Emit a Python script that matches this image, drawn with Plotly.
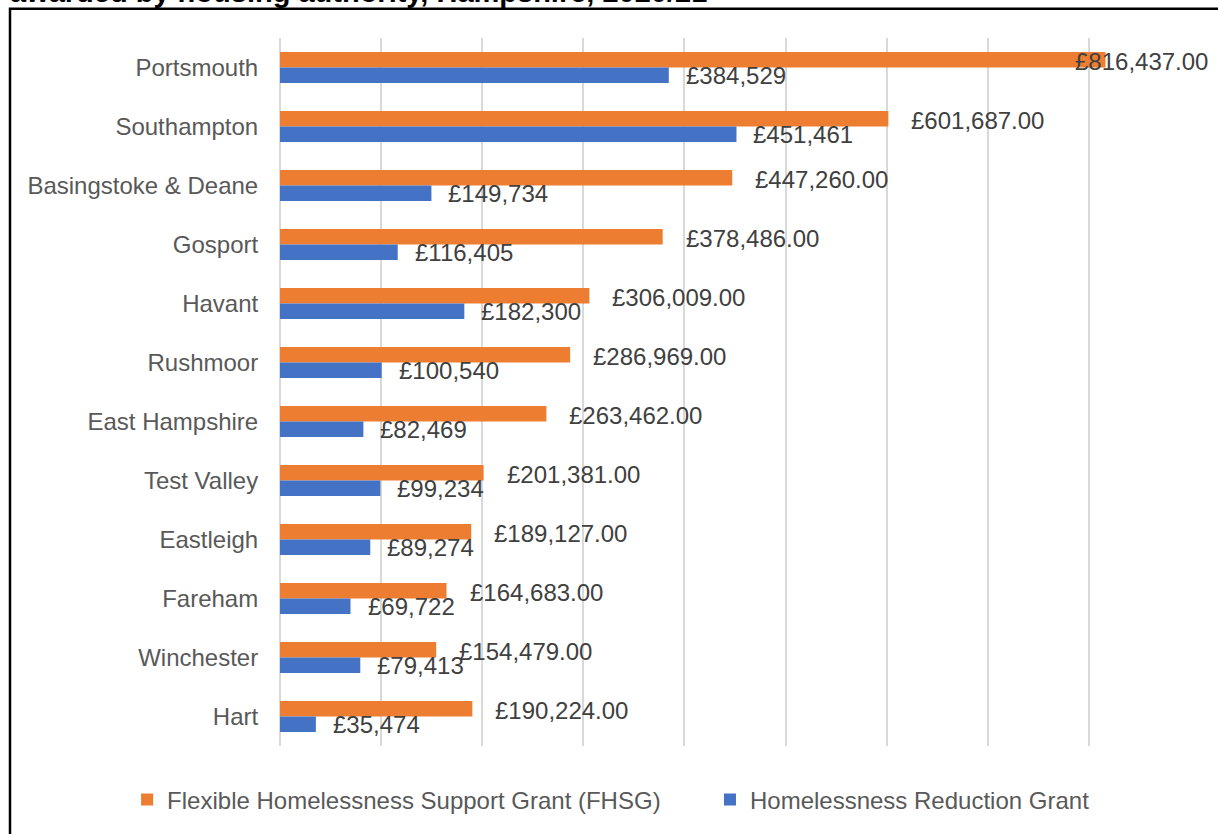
import plotly.graph_objects as go

# ---- data ----
authorities = ["Portsmouth", "Southampton", "Basingstoke & Deane", "Gosport", "Havant",
               "Rushmoor", "East Hampshire", "Test Valley", "Eastleigh", "Fareham",
               "Winchester", "Hart"]
fhsg = [816437, 601687, 447260, 378486, 306009, 286969, 263462, 201381, 189127, 164683,
        154479, 190224]
hrg = [384529, 451461, 149734, 116405, 182300, 100540, 82469, 99234, 89274, 69722,
       79413, 35474]
series_names = ["Flexible Homelessness Support Grant (FHSG)", "Homelessness Reduction Grant"]
title_text = "awarded by housing authority, Hampshire, 2020/21"

ORANGE = "#ED7D31"
BLUE = "#4472C4"
FONT = "Liberation Sans, Arial, sans-serif"
FS = 24
XMAX = 900000

fig = go.Figure()
fig.add_trace(go.Bar(y=authorities, x=fhsg, orientation="h", name=series_names[0],
                     marker=dict(color=ORANGE, line=dict(width=0)), legend="legend",
                     showlegend=True))
fig.add_trace(go.Bar(y=authorities, x=hrg, orientation="h", name=series_names[1],
                     marker=dict(color=BLUE, line=dict(width=0)), legend="legend2",
                     showlegend=True))

annotations = []
for cat, v in zip(authorities, fhsg):
    txt = "£{:,.2f}".format(v)
    if v > 0.85 * XMAX:
        annotations.append(dict(x=1.022, xref="paper", y=cat, yref="y", text=txt,
                                xanchor="right", yshift=6.5, showarrow=False,
                                font=dict(family=FONT, size=FS, color="#404040")))
    else:
        annotations.append(dict(x=v, xref="x", y=cat, yref="y", text=txt,
                                xanchor="left", xshift=21, yshift=6.5, showarrow=False,
                                font=dict(family=FONT, size=FS, color="#404040")))
for cat, v in zip(authorities, hrg):
    annotations.append(dict(x=v, xref="x", y=cat, yref="y", text="£{:,.0f}".format(v),
                            xanchor="left", xshift=15, yshift=-7.7, showarrow=False,
                            font=dict(family=FONT, size=FS, color="#404040")))

annotations.append(dict(x=-0.299, xref="paper", y=1.0645, yref="paper", text="<b>" + title_text + "</b>",
                        xanchor="left", yanchor="middle", showarrow=False,
                        font=dict(family=FONT, size=29, color="#000000")))

legend_style = dict(orientation="h", xanchor="left", y=-0.076, yanchor="middle",
                    font=dict(family=FONT, size=FS, color="#595959"), itemwidth=30,
                    visible=True)

fig.update_layout(
    width=1218, height=834,
    showlegend=True,
    margin=dict(l=280, r=28, t=38, b=83),
    paper_bgcolor="white", plot_bgcolor="white",
    barmode="group", bargap=0.476, bargroupgap=0,
    font=dict(family=FONT, size=FS, color="#595959"),
    xaxis=dict(range=[0, XMAX], dtick=100000, showticklabels=False, showgrid=True,
               gridcolor="#D9D9D9", gridwidth=1.5, zeroline=True, zerolinecolor="#D9D9D9",
               zerolinewidth=1.5, showline=False, ticks=""),
    yaxis=dict(autorange="reversed", showgrid=False, ticks="outside", ticklen=0,
               ticklabelstandoff=16, tickfont=dict(family=FONT, size=FS, color="#595959"),
               showline=False),
    legend=dict(x=-0.168, **legend_style),
    legend2=dict(x=0.4725, **legend_style),
    annotations=annotations,
    shapes=[dict(type="rect", xref="paper", yref="paper", x0=-0.2967, x1=1.2,
                 y0=-0.4, y1=1.0414, line=dict(color="black", width=2.5),
                 fillcolor="rgba(0,0,0,0)", layer="above")],
)

fig.write_html("out.html", config={"displayModeBar": False},
               post_script="document.body.style.margin='0';document.body.style.overflow='hidden';")
